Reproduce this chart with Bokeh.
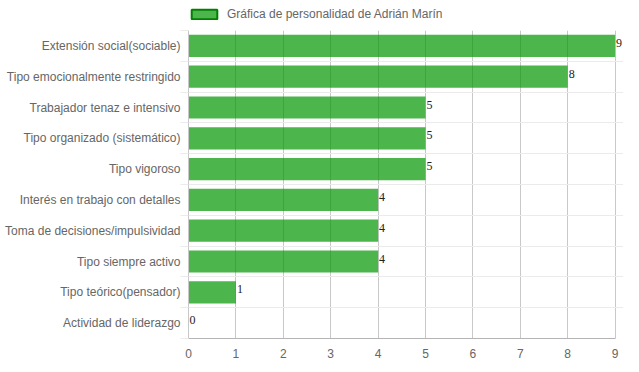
from bokeh.plotting import figure
from bokeh.layouts import column
from bokeh.models import (Range1d, FixedTicker, Legend, LegendItem, ColumnDataSource,
                          LabelSet)
from bokeh.embed import file_html
from bokeh.resources import INLINE

categories = [
    "Extensión social(sociable)",
    "Tipo emocionalmente restringido",
    "Trabajador tenaz e intensivo",
    "Tipo organizado (sistemático)",
    "Tipo vigoroso",
    "Interés en trabajo con detalles",
    "Toma de decisiones/impulsividad",
    "Tipo siempre activo",
    "Tipo teórico(pensador)",
    "Actividad de liderazgo",
]
values = [9, 8, 5, 5, 5, 4, 4, 4, 1, 0]
series_name = "Gráfica de personalidad de Adrián Marín"
x_ticks = [0, 1, 2, 3, 4, 5, 6, 7, 8, 9]

n = len(categories)
ypos = list(range(n))
boundaries = [i - 0.5 for i in range(n + 1)]
x_max = max(x_ticks)

source = ColumnDataSource(dict(y=ypos, v=values, cat=categories,
                               lbl=[str(v) for v in values]))

FONT = "Liberation Sans"
BAR_FILL = "#009600"
BAR_ALPHA = 0.7

# ---- legend strip -------------------------------------------------------
top = figure(width=623, height=24, output_backend="svg", toolbar_location=None,
             x_axis_type=None, y_axis_type=None,
             x_range=Range1d(0, 1), y_range=Range1d(0, 1),
             min_border_left=170, min_border_top=7, min_border_right=0,
             min_border_bottom=0)
top.outline_line_color = None
swatch = top.hbar(y="y", right="v", left=0, height=0.72, source=source,
                  fill_color=BAR_FILL, fill_alpha=BAR_ALPHA,
                  line_color="#008000", line_width=2, visible=False)
legend = Legend(items=[LegendItem(label=series_name, renderers=[swatch])],
                location="top_left", orientation="horizontal",
                border_line_color=None, background_fill_alpha=0,
                inactive_fill_alpha=0,
                padding=0, margin=0, spacing=0,
                glyph_width=32, glyph_height=12, label_standoff=7,
                label_text_font=FONT, label_text_font_size="12px",
                label_text_color="#666666", label_height=12)
top.add_layout(legend)

# ---- main chart ---------------------------------------------------------
px_per_unit = 47.4
frame_w = 435
p = figure(frame_width=frame_w, frame_height=308, output_backend="svg",
           toolbar_location=None,
           x_range=Range1d(0, frame_w / px_per_unit), y_range=Range1d(n - 0.5, -0.5),
           min_border_left=188, min_border_right=0, min_border_top=6,
           min_border_bottom=18)
p.outline_line_color = None
p.background_fill_color = "white"

bars = p.hbar(y="y", right="v", left=0, height=0.72, source=source,
              fill_color=BAR_FILL, fill_alpha=BAR_ALPHA, line_color=None)

labels = LabelSet(x="v", y="y", text="lbl", source=source, x_offset=1, y_offset=3,
                  text_baseline="middle", text_font="Liberation Serif",
                  text_font_size="12px", text_color="#222222")
p.add_layout(labels)

# x axis
p.xaxis.ticker = FixedTicker(ticks=x_ticks)
p.xaxis.bounds = (0, x_max)
p.xaxis.major_label_text_font = FONT
p.xaxis.major_label_text_font_size = "12px"
p.xaxis.major_label_text_color = "#666666"
p.xaxis.major_tick_line_color = None
p.xaxis.minor_tick_line_color = None
p.xaxis.axis_line_color = "#b4b4b4"
p.xaxis.major_label_standoff = 4

# y axis
p.yaxis.ticker = FixedTicker(ticks=ypos, minor_ticks=boundaries)
p.yaxis.major_label_overrides = {i: c for i, c in enumerate(categories)}
p.yaxis.major_label_text_font = FONT
p.yaxis.major_label_text_font_size = "12px"
p.yaxis.major_label_text_color = "#666666"
p.yaxis.major_tick_line_color = None
p.yaxis.major_tick_out = 0
p.yaxis.minor_tick_out = 8
p.yaxis.minor_tick_in = 0
p.yaxis.minor_tick_line_color = "#ebebeb"
p.yaxis.axis_line_color = "#c8c8c8"
p.yaxis.major_label_standoff = 0

p.xgrid.ticker = FixedTicker(ticks=x_ticks)
p.xgrid.grid_line_color = "#c8c8c8"
p.ygrid.ticker = FixedTicker(ticks=boundaries)
p.ygrid.grid_line_color = "#ebebeb"

layout = column(top, p, spacing=0)
open("out.html", "w").write(file_html(layout, INLINE))
